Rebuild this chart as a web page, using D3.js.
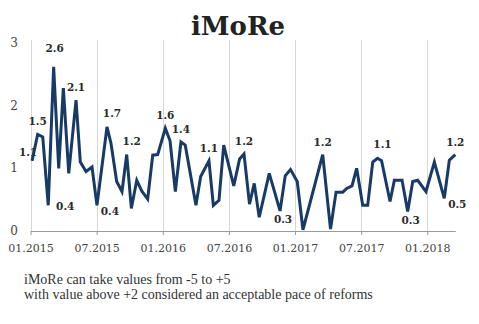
<!DOCTYPE html>
<html><head><meta charset="utf-8">
<script src="https://cdn.jsdelivr.net/npm/d3@7"></script>
<style>html,body{margin:0;padding:0;background:#fff;} svg{display:block}</style>
</head><body>
<script>
const chartTitle = "iMoRe";
const months = [0.14,0.65,1.11,1.61,2.10,2.56,2.98,3.47,4.13,4.52,5.04,5.58,6.03,6.94,7.30,7.82,8.30,8.73,9.15,9.64,
  10.12,10.63,11.09,11.54,12.23,12.66,13.14,13.65,14.04,15.01,15.44,16.19,16.59,17.10,17.53,18.44,18.97,19.37,19.87,20.30,
  20.75,21.66,22.64,23.11,23.59,24.20,24.72,26.51,27.22,27.72,28.33,28.69,29.17,29.59,30.14,30.59,31.05,31.48,31.85,32.62,
  33.01,33.71,34.22,34.68,35.13,35.88,36.64,37.54,38.00,38.54];
// iMoRe index values
const values = [1.12,1.54,1.50,0.41,2.62,1.00,2.28,0.92,2.09,1.10,0.95,1.02,0.41,1.66,1.40,0.79,0.63,1.22,0.36,0.81,
  0.63,0.51,1.21,1.22,1.64,1.44,0.63,1.42,1.37,0.41,0.87,1.12,0.41,0.49,1.37,0.72,1.15,1.23,0.43,0.76,
  0.22,0.92,0.32,0.88,0.98,0.79,0.02,1.22,0.03,0.62,0.62,0.68,0.72,1.00,0.41,0.41,1.10,1.16,1.12,0.47,
  0.81,0.81,0.31,0.79,0.81,0.63,1.10,0.52,1.13,1.22];
const xTickMonths = [0,6,12,18,24,30,36];
const xTickLabels = ["01.2015","07.2015","01.2016","07.2016","01.2017","07.2017","01.2018"];
const yTicks = [0,1,2,3];
// annotated points
const labelIdx  = [0,1,3,4,8,12,13,17,24,27,31,37,42,47,57,62,67,69];
const labelText = ["1.1","1.5","0.4","2.6","2.1","0.4","1.7","1.2","1.6","1.4","1.1","1.2","0.3","1.2","1.1","0.3","0.5","1.2"];
const labelSide = ["left","above","right","top","above","belowRight","aboveRight","aboveRight","above","above","above","above","below","above","aboveRight","below","belowRight","above"];
const notes = ["iMoRe can take values from -5 to +5",
               "with value above +2 considered an acceptable pace of reforms"];

const W = 479, H = 324;
const sideOffset = {
  above: [0,-9], top: [1,-15], aboveRight: [5,-10], left: [-4,-5],
  right: [17,5], belowRight: [13,10], below: [3,12]
};

const svg = d3.select("body").append("svg").attr("width", W).attr("height", H);

const xMax = d3.max(months);
const pxPerMonth = (427.3 - 30.5) / 36;
const x = d3.scaleLinear().domain([0, xMax]).range([30.5, 30.5 + xMax * pxPerMonth]);
const y = d3.scaleLinear().domain([0, 3]).range([231, 43]);

// title
svg.append("text")
  .attr("x", 238).attr("y", 35)
  .attr("text-anchor", "middle")
  .attr("font-family", "DejaVu Serif")
  .attr("font-weight", "bold")
  .attr("font-size", 26)
  .attr("fill", "#222")
  .text(chartTitle);

// vertical gridlines
svg.append("g").selectAll("line").data(xTickMonths).join("line")
  .attr("x1", d => Math.round(x(d)) + 0.5).attr("x2", d => Math.round(x(d)) + 0.5)
  .attr("y1", 40).attr("y2", y(0))
  .attr("stroke", "#d6d6d6").attr("stroke-width", 1);

// x axis
const xAxis = d3.axisBottom(x).tickValues(xTickMonths)
  .tickFormat((d, i) => xTickLabels[i]).tickSize(4).tickSizeOuter(0).tickPadding(9);
const gx = svg.append("g").attr("transform", `translate(0,${y(0)})`).call(xAxis);
gx.select(".domain").attr("stroke", "#9a9a9a").attr("stroke-width", 1.2);
gx.selectAll(".tick line").attr("stroke", "#9a9a9a");
gx.selectAll(".tick text").attr("font-family", "DejaVu Serif").attr("font-size", 11).attr("fill", "#444");

// y labels
svg.append("g").selectAll("text").data(yTicks).join("text")
  .attr("x", 14).attr("y", d => y(d) + 4)
  .attr("text-anchor", "middle")
  .attr("font-family", "DejaVu Serif").attr("font-size", 12).attr("fill", "#444")
  .text(d => d);

// data labels
svg.append("g").selectAll("text").data(labelIdx).join("text")
  .attr("x", (d, i) => x(months[d]) + sideOffset[labelSide[i]][0])
  .attr("y", (d, i) => y(values[d]) + sideOffset[labelSide[i]][1])
  .attr("text-anchor", "middle")
  .attr("font-family", "DejaVu Serif").attr("font-weight", "bold")
  .attr("font-size", 10.5).attr("fill", "#2a2a2a")
  .text((d, i) => labelText[i]);

// line
const line = d3.line().x((d, i) => x(months[i])).y(d => y(d));
svg.append("path").datum(values)
  .attr("d", line)
  .attr("fill", "none")
  .attr("stroke", "#173a66")
  .attr("stroke-width", 3)
  .attr("stroke-linejoin", "miter");

// notes
svg.append("g").selectAll("text").data(notes).join("text")
  .attr("x", 24).attr("y", (d, i) => 284 + i * 15)
  .attr("font-family", "Liberation Serif").attr("font-size", 14).attr("fill", "#333")
  .text(d => d);
</script>
</body></html>
